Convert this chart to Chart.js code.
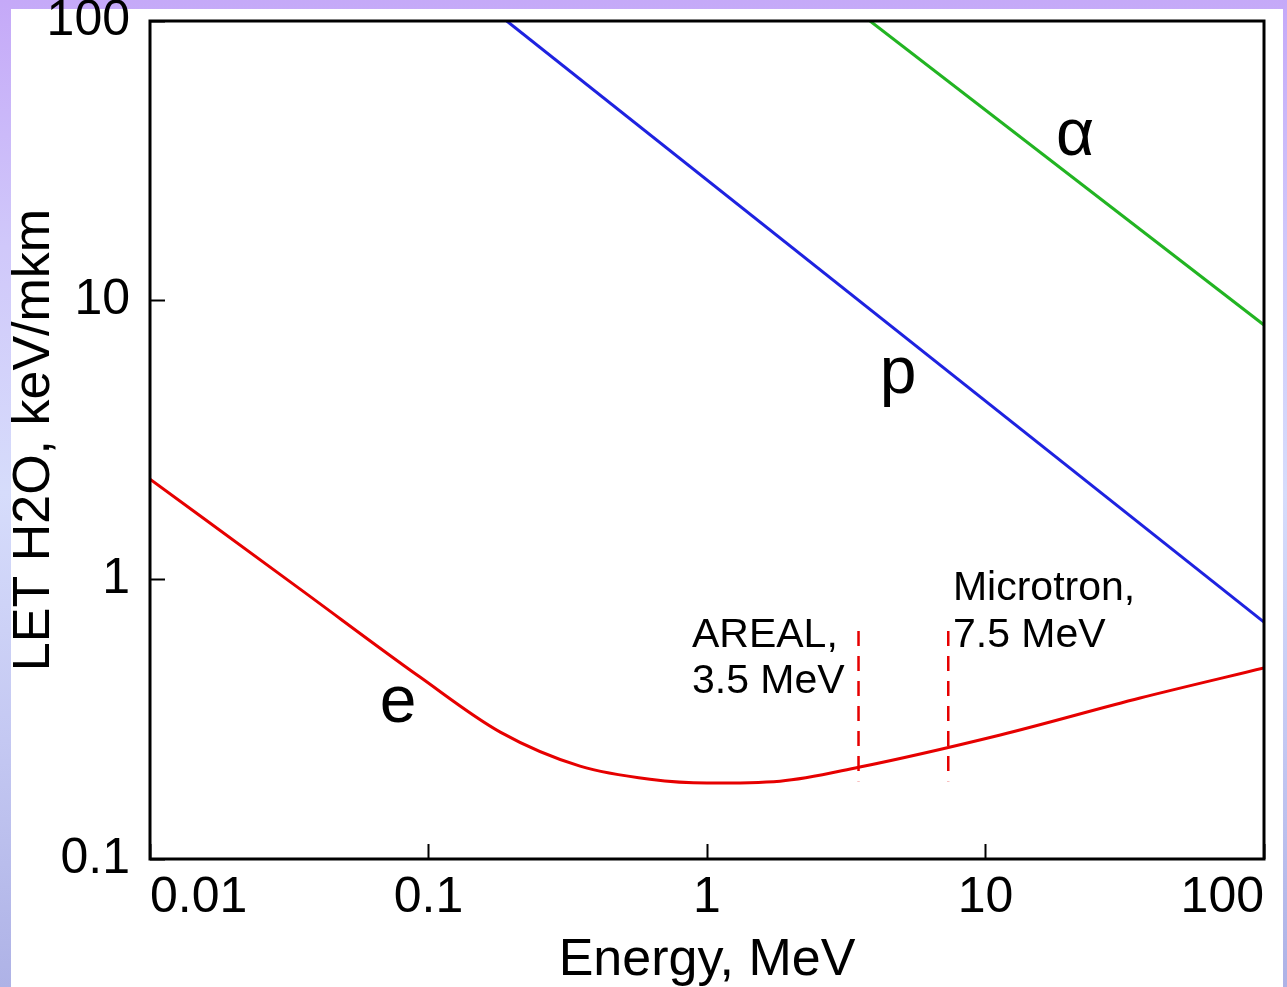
<!DOCTYPE html>
<html>
<head>
<meta charset="utf-8">
<script src="https://cdn.jsdelivr.net/npm/chart.js@4/dist/chart.umd.min.js"></script>
<style>
  html, body { margin: 0; padding: 0; width: 1287px; height: 987px; overflow: hidden; }
  body { background: linear-gradient(to bottom, #c5a9f8 0%, #d0c8fa 25%, #d6dcfb 50%, #c4c8f2 75%, #aeb2e6 100%); position: relative; }
  #panel { position: absolute; left: 11px; top: 9px; width: 1272px; height: 978px; background: #ffffff; }
  #wrap { position: absolute; left: 0; top: 0; width: 1287px; height: 987px; overflow: hidden; }
  #c { position: absolute; left: 0; top: -34px; display: block; }
</style>
</head>
<body>
<div id="panel"></div>
<div id="wrap"><canvas id="c" width="1290" height="1026"></canvas></div>
<script>
// ---- Data ----
const xTickValues = [0.01, 0.1, 1, 10, 100];
const xTickLabels = ['0.01', '0.1', '1', '10', '100'];
const yTickValues = [0.1, 1, 10, 100];
const yTickLabels = ['0.1', '1', '10', '100'];

// electron LET curve
const electronE   = [0.01, 0.0346, 0.0932, 0.181, 0.350, 0.624, 1.0, 1.83, 3.5, 11.3, 35.9, 100];
const electronLET = [2.29, 0.925, 0.448, 0.2846, 0.215, 0.193, 0.187, 0.190, 0.213, 0.278, 0.377, 0.483];
// proton LET
const protonE   = [0.191, 100];
const protonLET = [100, 0.705];
// alpha LET
const alphaE   = [3.85, 100];
const alphaLET = [100, 8.16];
// accelerator markers (dashed verticals)
const arealE = [3.5, 3.5];
const arealLET = [0.655, 0.19];
const microtronE = [7.35, 7.35];
const microtronLET = [0.655, 0.19];

// text annotations: [text lines, E, LET anchor]
const annotTexts = [['e'], ['p'], ['α'], ['AREAL,', '3.5 MeV'], ['Microtron,', '7.5 MeV']];
const annotE   = [0.0777, 4.85, 20.96, 0.883, 7.64];
const annotLET = [0.309, 4.66, 33.1, 0.574, 0.845];

const xTitle = 'Energy, MeV';
const yTitle = 'LET H2O, keV/mkm';

// ---- Build ----
const FONT = '"Liberation Sans", Arial, sans-serif';
const zip = (a, b) => a.map((v, i) => ({ x: v, y: b[i] }));

const RED = '#e60000', BLUE = '#1e22e0', GREEN = '#22b422';

const annotStyle = [
  { size: 66, align: 'center', lh: 0 },
  { size: 66, align: 'center', lh: 0 },
  { size: 66, align: 'center', lh: 0 },
  { size: 41, align: 'left', lh: 46 },
  { size: 41, align: 'left', lh: 47 }
];

const boxAndText = {
  id: 'boxAndText',
  afterDatasetsDraw(chart) {
    const { ctx, chartArea: a, scales } = chart;
    ctx.save();
    ctx.strokeStyle = '#000';
    ctx.lineWidth = 3;
    ctx.strokeRect(a.left, a.top, a.right - a.left, a.bottom - a.top);
    ctx.fillStyle = '#000';
    ctx.textBaseline = 'alphabetic';
    annotTexts.forEach((lines, i) => {
      const st = annotStyle[i];
      const px = scales.x.getPixelForValue(annotE[i]);
      const py = scales.y.getPixelForValue(annotLET[i]);
      ctx.font = st.size + 'px ' + FONT;
      ctx.textAlign = st.align;
      lines.forEach((t, k) => ctx.fillText(t, px, py + k * st.lh));
    });
    ctx.restore();
  }
};

new Chart(document.getElementById('c'), {
  type: 'line',
  data: {
    datasets: [
      { data: zip(electronE, electronLET), borderColor: RED, borderWidth: 3, cubicInterpolationMode: 'monotone' },
      { data: zip(protonE, protonLET), borderColor: BLUE, borderWidth: 3 },
      { data: zip(alphaE, alphaLET), borderColor: GREEN, borderWidth: 3 },
      { data: zip(arealE, arealLET), borderColor: RED, borderWidth: 2.5, borderDash: [15, 10] },
      { data: zip(microtronE, microtronLET), borderColor: RED, borderWidth: 2.5, borderDash: [15, 10] }
    ]
  },
  options: {
    responsive: false,
    animation: false,
    devicePixelRatio: 1,
    layout: { padding: { left: 3, top: 0, right: 26, bottom: 0 } },
    elements: { point: { radius: 0 }, line: { fill: false } },
    plugins: { legend: { display: false }, tooltip: { enabled: false } },
    scales: {
      x: {
        type: 'logarithmic', min: 0.01, max: 100, position: 'bottom',
        afterBuildTicks: s => { s.ticks = xTickValues.map(v => ({ value: v })); },
        afterFit: s => { s.height = 133; },
        ticks: {
          color: '#000', padding: 24, align: 'inner', maxRotation: 0, autoSkip: false,
          font: { family: FONT, size: 50, lineHeight: 1.2 },
          callback: (v) => xTickLabels[xTickValues.indexOf(v)] ?? ''
        },
        grid: { drawOnChartArea: false, drawTicks: true, tickLength: -15, tickWidth: 2, tickColor: '#000' },
        border: { display: false },
        title: { display: true, text: xTitle, color: '#000', padding: { top: 0, bottom: 0 }, font: { family: FONT, size: 52, lineHeight: 1.2 } }
      },
      y: {
        type: 'logarithmic', min: 0.1, max: 100, position: 'left',
        afterBuildTicks: s => { s.ticks = yTickValues.map(v => ({ value: v })); },
        afterFit: s => { s.width = 147; },
        ticks: {
          color: '#000', padding: 35, autoSkip: false,
          font: { family: FONT, size: 50, lineHeight: 0.8 },
          callback: (v) => yTickLabels[yTickValues.indexOf(v)] ?? ''
        },
        grid: { drawOnChartArea: false, drawTicks: true, tickLength: -15, tickWidth: 2, tickColor: '#000' },
        border: { display: false },
        title: { display: true, text: yTitle, color: '#000', padding: { top: 0, bottom: 0 }, font: { family: FONT, size: 52, lineHeight: 1.2 } }
      }
    }
  },
  plugins: [boxAndText]
});
</script>
</body>
</html>
